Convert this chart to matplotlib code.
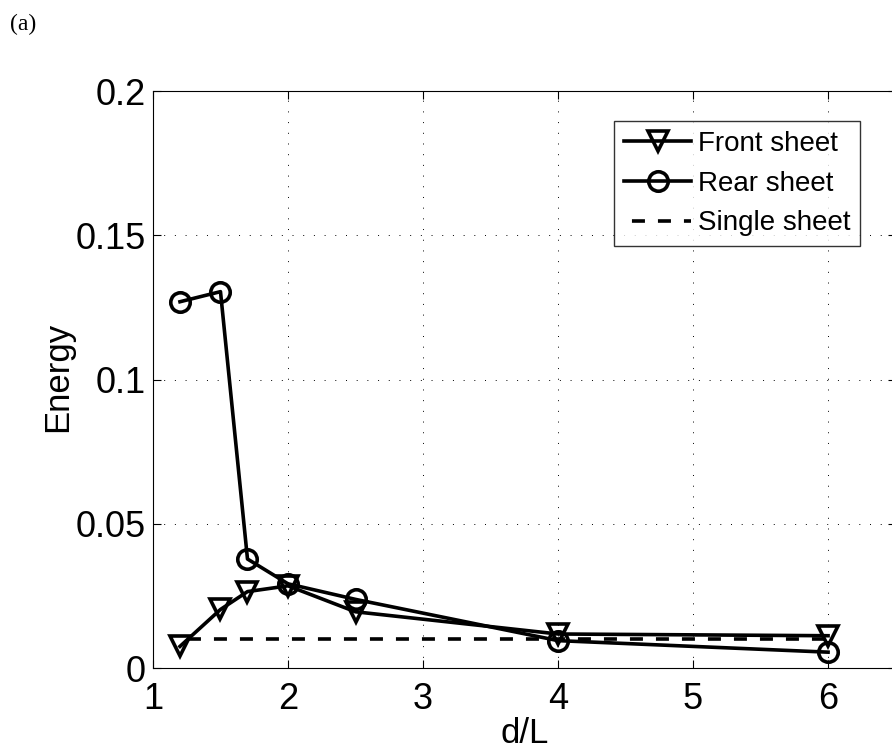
import matplotlib

matplotlib.use("Agg")
import matplotlib.pyplot as plt

# d/L positions and energies
d_over_L = [1.2, 1.5, 1.7, 2.0, 2.5, 4.0, 6.0]
front_sheet = [0.0075, 0.0203, 0.0265, 0.0285, 0.0195, 0.0118, 0.0112]
rear_sheet = [0.1270, 0.1305, 0.0378, 0.0292, 0.0238, 0.0095, 0.0055]
single_x = [1.2, 6.0]
single_sheet = [0.0100, 0.0100]

x_ticks = [1, 2, 3, 4, 5, 6]
y_ticks = [0, 0.05, 0.1, 0.15, 0.2]
y_ticklabels = ["0", "0.05", "0.1", "0.15", "0.2"]

plt.rcParams["font.family"] = ["Liberation Sans", "DejaVu Sans"]

fig = plt.figure(figsize=(8.92, 7.55), dpi=100)
# axes runs past the right edge of the figure, as in the cropped original
ax = fig.add_axes([0.1715, 0.1152, 0.8325, 0.764])

LW = 2.6
ax.plot(d_over_L, front_sheet, color="black", lw=LW, marker="v",
        ms=14, mfc="none", mew=LW, label="Front sheet")
ax.plot(d_over_L, rear_sheet, color="black", lw=LW, marker="o",
        ms=14, mfc="none", mew=LW, label="Rear sheet")
ax.plot(single_x, single_sheet, color="black", lw=LW,
        ls=(5, (3.6, 3.6)), label="Single sheet")

ax.set_xlim(1, 6.5)
ax.set_ylim(0, 0.2)
ax.set_xticks(x_ticks)
ax.set_yticks(y_ticks)
ax.set_yticklabels(y_ticklabels)
ax.tick_params(direction="in", length=6, width=0.8, labelsize=26,
               top=True, right=True)
ax.tick_params(axis="x", pad=10)
ax.tick_params(axis="y", pad=5)
ax.grid(True, ls=(0, (1, 10)), color="black", lw=0.7)
ax.set_xlabel("d/L", fontsize=25)
ax.set_ylabel("Energy", fontsize=25)
ax.xaxis.set_label_coords(0.5, -0.085)
ax.yaxis.set_label_coords(-0.106, 0.505)

leg = ax.legend(loc="upper right", bbox_to_anchor=(860 / 892, 1 - 121 / 755),
                bbox_transform=fig.transFigure, fontsize=20, frameon=True,
                fancybox=False, handlelength=2.4, handletextpad=0.25,
                labelspacing=0.5, borderpad=0.35, borderaxespad=0)
leg.get_frame().set_edgecolor("black")
leg.get_frame().set_linewidth(1.0)

fig.text(0.011, 0.968, "(a)", fontsize=17, family="Liberation Serif",
         ha="left", va="center")

fig.savefig("out.png", dpi=100)
